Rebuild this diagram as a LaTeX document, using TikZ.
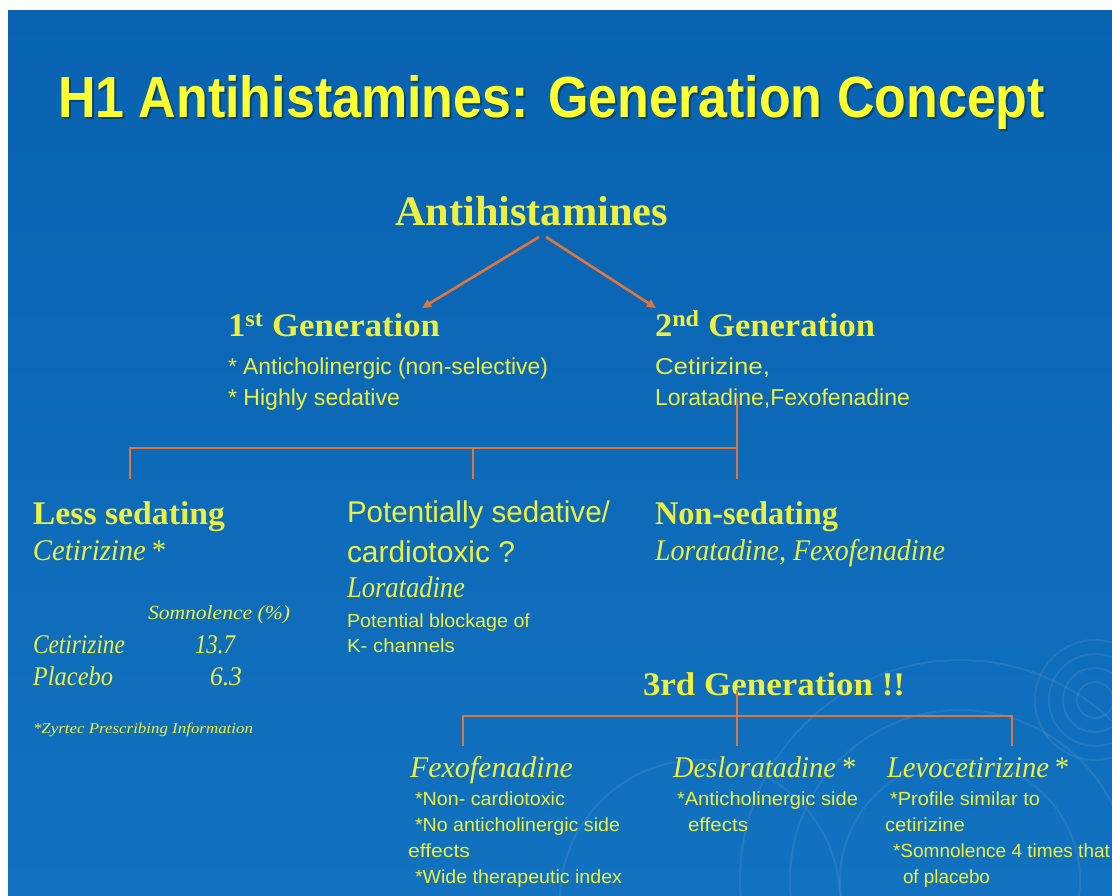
\documentclass[tikz,border=0pt]{standalone}
\usepackage{fontspec}
\setmainfont{Liberation Serif}
\newfontfamily\arialf{Liberation Sans}
\usepackage{graphicx}
\usetikzlibrary{arrows.meta}
\definecolor{bgblue}{HTML}{0862B0}
\definecolor{bgblue2}{HTML}{1272C0}
\definecolor{txtyel}{HTML}{EEF040}
\definecolor{ttlyel}{HTML}{FFFF30}
\definecolor{lineor}{HTML}{E0763A}
\newcommand\fitbox[2]{\resizebox{#1}{\height}{#2}}
\newcommand\fTitle{\arialf\bfseries\fontsize{58}{60}\selectfont}
\newcommand\fHead{\bfseries\fontsize{33}{36}\selectfont}
\newcommand\fHeadL{\bfseries\fontsize{42}{44}\selectfont}
\newcommand\fIt{\itshape\fontsize{30}{32}\selectfont}
\newcommand\fItS{\itshape\fontsize{27}{29}\selectfont}
\newcommand\fArM{\arialf\fontsize{23}{25}\selectfont}
\newcommand\fArL{\arialf\fontsize{30}{32}\selectfont}
\newcommand\fArS{\arialf\fontsize{19}{21}\selectfont}
\begin{document}
\begin{tikzpicture}[x=1pt,y=-1pt,
  lbl/.style={anchor=base west,inner sep=0pt,outer sep=0pt,text=txtyel},
  conn/.style={draw=lineor,line width=2.6pt,line cap=butt},
  arr/.style={conn,-{Triangle[length=9pt,width=8pt]}},
  ring/.style={draw=white,opacity=0.07,line width=2pt}]
\useasboundingbox (0,0) rectangle (1112,895);
\fill[white] (0,0) rectangle (1112,895);
\shade[top color=bgblue,bottom color=bgblue2] (8,10) rectangle (1112,895);
% faint decorative rings
\begin{scope}
\clip (8,10) rectangle (1112,895);
\foreach \r in {18,32,46,60} {\draw[ring] (1095,700) circle (\r);}
\foreach \r in {120,170,220} {\draw[ring] (960,880) circle (\r);}
\draw[ring] (700,900) circle (140);
\end{scope}
% title
\node[lbl,text=black,opacity=0.3] (titleshadow) at (60,119) {\fitbox{987pt}{\fTitle H1 Antihistamines: Generation Concept}};
\node[lbl,text=ttlyel] (title) at (58,117) {\fitbox{987pt}{\fTitle H1 Antihistamines: Generation Concept}};
% root
\node[lbl] (anti) at (395,225) {\fitbox{273pt}{\fHeadL Antihistamines}};
% generations
\node[lbl] (gen1) at (228,336) {\fitbox{212pt}{\fHead 1\textsuperscript{st} Generation}};
\node[lbl] (g1a) at (228,374) {\fitbox{320pt}{\fArM * Anticholinergic (non-selective)}};
\node[lbl] (g1b) at (228,405) {\fitbox{172pt}{\fArM * Highly sedative}};
\node[lbl] (gen2) at (655,336) {\fitbox{220pt}{\fHead 2\textsuperscript{nd} Generation}};
\node[lbl] (g2a) at (655,374) {\fitbox{115pt}{\fArM Cetirizine,}};
\node[lbl] (g2b) at (655,405) {\fitbox{255pt}{\fArM Loratadine,Fexofenadine}};
% arrows
\coordinate (a1s) at (539,237);
\coordinate (a1e) at (422,308);
\coordinate (a2s) at (546,237);
\coordinate (a2e) at (656,308);
\draw[arr] (a1s) -- (a1e);
\draw[arr] (a2s) -- (a2e);
% second-level tree
\coordinate (t0) at (737,398);
\coordinate (tj) at (737,448);
\coordinate (tl) at (130,448);
\coordinate (tm) at (473,448);
\coordinate (tle) at (130,479);
\coordinate (tme) at (473,479);
\coordinate (tre) at (737,479);
\draw[conn] (t0) -- (tre);
\draw[conn] (tle) -- (tl) -- (tj);
\draw[conn] (tm) -- (tme);
% less sedating
\node[lbl] (less) at (33,524) {\fitbox{192pt}{\fHead Less sedating}};
\node[lbl] (lessa) at (33,560) {\fitbox{132pt}{\fIt Cetirizine\,*}};
\node[lbl] (somn) at (148,619) {\fitbox{142pt}{\itshape\fontsize{20}{22}\selectfont Somnolence (\%)}};
\node[lbl] (cet) at (33,653) {\fitbox{92pt}{\fItS Cetirizine}};
\node[lbl] (cetv) at (195,653) {\fitbox{40pt}{\fItS 13.7}};
\node[lbl] (plac) at (33,685) {\fitbox{80pt}{\fItS Placebo}};
\node[lbl] (placv) at (210,685) {\fitbox{32pt}{\fItS 6.3}};
\node[lbl] (zyr) at (33,733) {\fitbox{220pt}{\itshape\fontsize{15}{17}\selectfont *Zyrtec Prescribing Information}};
% potentially sedative
\node[lbl] (pot) at (347,522) {\fitbox{263pt}{\fArL Potentially sedative/}};
\node[lbl] (pot2) at (347,562) {\fitbox{168pt}{\fArL cardiotoxic ?}};
\node[lbl] (lor) at (347,597) {\fitbox{118pt}{\fIt Loratadine}};
\node[lbl] (potb) at (347,627) {\fitbox{183pt}{\fArS Potential blockage of}};
\node[lbl] (potk) at (347,652) {\fitbox{108pt}{\fArS K- channels}};
% non sedating
\node[lbl] (non) at (655,524) {\fitbox{183pt}{\fHead Non-sedating}};
\node[lbl] (nona) at (655,560) {\fitbox{290pt}{\fIt Loratadine, Fexofenadine}};
% third generation
\node[lbl] (gen3) at (643,695) {\fitbox{262pt}{\fHead 3rd Generation !!}};
\coordinate (u0) at (737,690);
\coordinate (uj) at (737,716);
\coordinate (ul) at (463,716);
\coordinate (ur) at (1012,716);
\coordinate (ule) at (463,746);
\coordinate (ume) at (737,746);
\coordinate (ure) at (1012,746);
\draw[conn] (u0) -- (ume);
\draw[conn] (ule) -- (ul) -- (ur) -- (ure);
% children
\node[lbl] (fex) at (410,777) {\fitbox{163pt}{\fIt Fexofenadine}};
\node[lbl] (fexa) at (415,805) {\fitbox{150pt}{\fArS *Non- cardiotoxic}};
\node[lbl] (fexb) at (415,831) {\fitbox{205pt}{\fArS *No anticholinergic side}};
\node[lbl] (fexc) at (408,857) {\fitbox{62pt}{\fArS effects}};
\node[lbl] (fexd) at (415,883) {\fitbox{207pt}{\fArS *Wide therapeutic index}};
\node[lbl] (des) at (673,777) {\fitbox{182pt}{\fIt Desloratadine\,*}};
\node[lbl] (desa) at (677,805) {\fitbox{181pt}{\fArS *Anticholinergic side}};
\node[lbl] (desb) at (688,831) {\fitbox{60pt}{\fArS effects}};
\node[lbl] (levo) at (887,777) {\fitbox{181pt}{\fIt Levocetirizine\,*}};
\node[lbl] (levoa) at (890,805) {\fitbox{150pt}{\fArS *Profile similar to}};
\node[lbl] (levob) at (885,831) {\fitbox{80pt}{\fArS cetirizine}};
\node[lbl] (levoc) at (893,857) {\fitbox{217pt}{\fArS *Somnolence 4 times that}};
\node[lbl] (levod) at (903,883) {\fitbox{87pt}{\fArS of placebo}};
\end{tikzpicture}
\end{document}
